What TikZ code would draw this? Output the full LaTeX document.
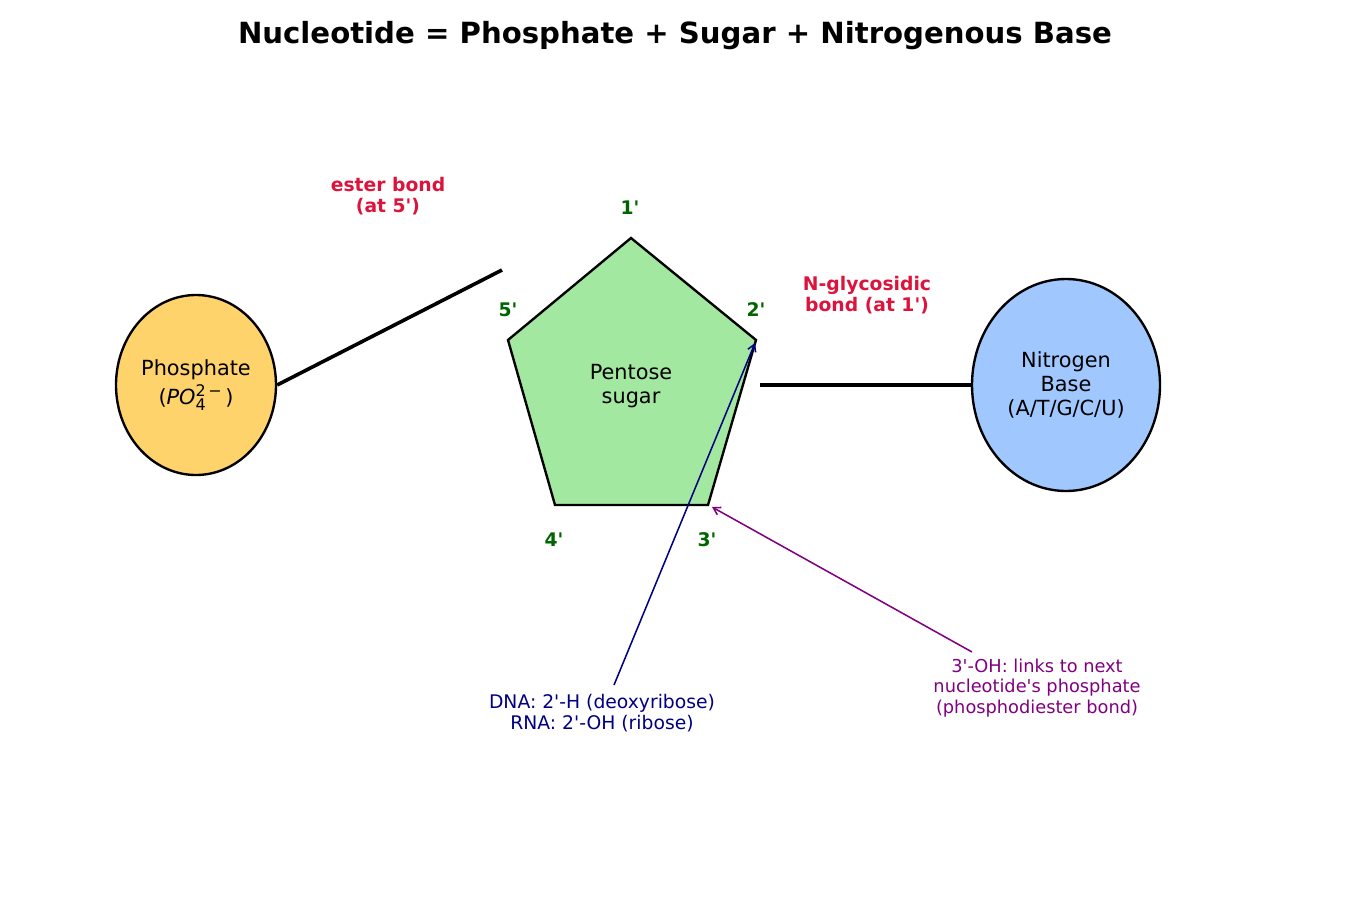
\documentclass[tikz,border=0pt]{standalone}
\usepackage{fontspec}
\setmainfont{DejaVu Sans}
\usetikzlibrary{arrows.meta,shapes.geometric}
\newcommand{\apo}{\textquotesingle}
\definecolor{phos}{HTML}{FFD36B}
\definecolor{sug}{HTML}{A2E8A0}
\definecolor{nbase}{HTML}{A0C8FF}
\definecolor{dgreen}{HTML}{006400}
\definecolor{crim}{HTML}{DC143C}
\definecolor{nav}{HTML}{000080}
\definecolor{purp}{HTML}{800080}
\tikzset{
  blob/.style={ellipse, draw=black, line width=1.7pt, inner sep=0pt, align=center, font=\fontsize{15}{17}\selectfont},
  bond/.style={line width=2.6pt, black},
  primelbl/.style={text=dgreen, font=\fontsize{13.5}{15}\selectfont\bfseries},
  bondlbl/.style={text=crim, align=center, font=\fontsize{13.5}{15}\selectfont\bfseries},
  note/.style={align=center, font=\fontsize{13.5}{15}\selectfont},
  arr/.style={line width=1.1pt, -{Straight Barb[length=5pt,width=6pt]}},
}
\begin{document}
\begin{tikzpicture}[x=0.72pt,y=-0.72pt]
\useasboundingbox (0,0) rectangle (1350,900);
\node[font=\fontsize{21}{24}\selectfont\bfseries] (title) at (675,36) {Nucleotide = Phosphate + Sugar + Nitrogenous Base};
% phosphate
\node[blob, fill=phos, minimum width=160*0.72pt, minimum height=180*0.72pt, font=\fontsize{15}{21}\selectfont] (P) at (196,385) {Phosphate\\(\textit{PO}\rlap{\raisebox{-0.45ex}{\fontsize{11.5}{11.5}\selectfont 4}}\raisebox{0.7ex}{\fontsize{11.5}{11.5}\selectfont 2\,−}\,)};
% nitrogen base
\node[blob, fill=nbase, minimum width=188*0.72pt, minimum height=212*0.72pt] (N) at (1066,385) {Nitrogen\\Base\\(A/T/G/C/U)};
% pentagon
\coordinate (v1) at (631,238);
\coordinate (v2) at (756,340);
\coordinate (v3) at (708,505);
\coordinate (v4) at (555,505);
\coordinate (v5) at (508,340);
\draw[fill=sug, line width=1.7pt, line join=miter] (v1) -- (v2) -- (v3) -- (v4) -- (v5) -- cycle;
\node[align=center, font=\fontsize{15}{17}\selectfont] (S) at (631,386) {Pentose\\sugar};
% bonds
\coordinate (eEnd) at (502,270);
\coordinate (gStart) at (760,385);
\draw[bond] (P.east) -- (eEnd);
\draw[bond] (gStart) -- (N.west);
% position labels
\node[primelbl] (p1) at (630,208) {1\apo};
\node[primelbl] (p5) at (508,310) {5\apo};
\node[primelbl] (p2) at (756,310) {2\apo};
\node[primelbl] (p4) at (554,540) {4\apo};
\node[primelbl] (p3) at (707,540) {3\apo};
% bond labels
\node[bondlbl] (eb) at (388,196) {ester bond\\(at 5\apo)};
\node[bondlbl] (gb) at (867,295) {N-glycosidic\\bond (at 1\apo)};
% annotations
\node[note, text=nav] (dna) at (602,713) {DNA: 2\apo-H (deoxyribose)\\RNA: 2\apo-OH (ribose)};
\node[note, text=purp, font=\fontsize{12.8}{15}\selectfont] (oh) at (1037,688) {3\apo-OH: links to next\\nucleotide\apo s phosphate\\(phosphodiester bond)};
\coordinate (dnaTail) at (614,685);
\coordinate (ohTail) at (972,652);
\coordinate (ohTip) at (712,507);
\coordinate (dnaTip) at (755,343);
\draw[arr, nav] (dnaTail) -- (dnaTip);
\draw[arr, purp] (ohTail) -- (ohTip);
\end{tikzpicture}
\end{document}
